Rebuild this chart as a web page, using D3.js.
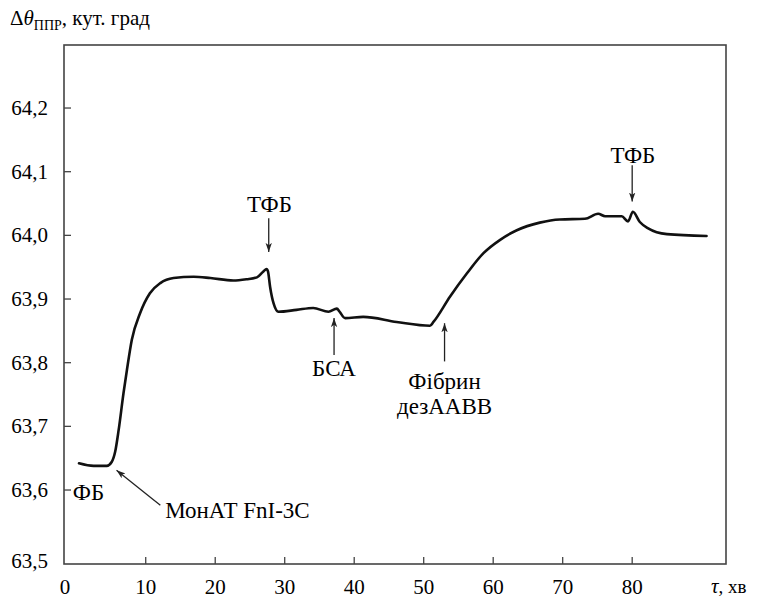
<!DOCTYPE html>
<html>
<head>
<meta charset="utf-8">
<script src="https://cdn.jsdelivr.net/npm/d3@7"></script>
</head>
<body style="margin:0">
<script>
// time, min
var times = [0.4, 2.5, 4.4, 5.1, 5.6, 6.1, 6.8, 7.3, 8.0, 9.2, 10.6, 12.1, 14.0, 16.9, 19.3, 22.6, 24.5,
    26.0, 26.9, 27.4, 27.6, 27.9, 28.4, 29.1, 31.7, 34.1, 36.3, 37.5, 37.9, 38.7, 41.3, 46.1, 50.9,
    51.4, 53.8, 56.2, 58.6, 61.0, 63.4, 66.7, 69.6, 73.2, 75.1, 76.1, 78.5, 79.4, 80.1, 81.1, 82.3, 85.0, 90.7]
// delta theta, deg
var values = [63.642, 63.638, 63.638, 63.644, 63.660, 63.694, 63.752, 63.789, 63.836, 63.878, 63.909, 63.925, 63.933, 63.935, 63.933, 63.929, 63.931,
    63.934, 63.943, 63.947, 63.943, 63.919, 63.893, 63.880, 63.883, 63.886, 63.880, 63.885, 63.880, 63.870, 63.872, 63.864, 63.858,
    63.864, 63.904, 63.940, 63.972, 63.993, 64.008, 64.020, 64.025, 64.026, 64.034, 64.030, 64.030, 64.022, 64.037, 64.021, 64.011, 64.002, 63.999]

var xTicks = [10, 20, 30, 40, 50, 60, 70, 80]
var yTicks = [63.6, 63.7, 63.8, 63.9, 64.0, 64.1, 64.2]
var xCornerLabel = '0'
var yCornerLabel = '63,5'

// arrows: tip and tail in data units
var arrows = [
    {tipT: 5.8, tipV: 63.631, tailT: 12.1, tailV: 63.576},
    {tipT: 27.7, tipV: 63.974, tailT: 27.7, tailV: 64.027},
    {tipT: 37.1, tipV: 63.870, tailT: 37.1, tailV: 63.812},
    {tipT: 53.0, tipV: 63.862, tailT: 53.0, tailV: 63.802},
    {tipT: 80.0, tipV: 64.053, tailT: 80.0, tailV: 64.110}
]
var labels = [
    {text: 'ФБ', t: -0.5, v: 63.597, anchor: 'start'},
    {text: 'МонАТ FnI-3C', t: 12.8, v: 63.569, anchor: 'start'},
    {text: 'ТФБ', t: 27.8, v: 64.049, anchor: 'middle'},
    {text: 'БСА', t: 37.1, v: 63.792, anchor: 'middle'},
    {text: 'Фібрин', t: 53.0, v: 63.772, anchor: 'middle'},
    {text: 'дезААВВ', t: 53.0, v: 63.732, anchor: 'middle'},
    {text: 'ТФБ', t: 80.1, v: 64.126, anchor: 'middle'}
]

var frame = ({left: 64, right: 726, top: 45, bottom: 564})
var serif = 'Liberation Serif'

// fitted to the printed ticks: 10 -> 145.7, 80 -> 632.3 ; 64.2 -> 108, 63.6 -> 490
var x = d3.scaleLinear()
    .domain([-1.76, 93.5])
    .range([frame.left, frame.right])

var y = d3.scaleLinear()
    .domain([63.4838, 64.299])
    .range([frame.bottom, frame.top])

const svg = d3.select('body')
    .append('svg')
    .attr('width', 762)
    .attr('height', 598)
    .attr('font-family', serif)

svg.append('defs').append('marker')
    .attr('id', 'head')
    .attr('viewBox', '0 0 10 10')
    .attr('refX', 10)
    .attr('refY', 5)
    .attr('markerWidth', 9)
    .attr('markerHeight', 9)
    .attr('markerUnits', 'userSpaceOnUse')
    .attr('orient', 'auto')
    .append('path')
    .attr('d', 'M0,1.5 L10,5 L0,8.5 L2.5,5 Z')
    .attr('fill', '#222')

// frame
svg.append('rect')
    .attr('x', frame.left)
    .attr('y', frame.top)
    .attr('width', frame.right - frame.left)
    .attr('height', frame.bottom - frame.top)
    .attr('fill', 'none')
    .attr('stroke', '#444')
    .attr('stroke-width', 1.6)

// inward ticks (lines only)
svg.append('g')
    .selectAll('line')
    .data(xTicks)
    .join('line')
    .attr('x1', d => x(d))
    .attr('x2', d => x(d))
    .attr('y1', frame.bottom)
    .attr('y2', frame.bottom - 7)
    .attr('stroke', '#444')
    .attr('stroke-width', 1.3)

svg.append('g')
    .selectAll('line')
    .data(yTicks)
    .join('line')
    .attr('x1', frame.left)
    .attr('x2', frame.left + 7)
    .attr('y1', d => y(d))
    .attr('y2', d => y(d))
    .attr('stroke', '#444')
    .attr('stroke-width', 1.3)

// tick labels
svg.append('g')
    .selectAll('text')
    .data(xTicks)
    .join('text')
    .attr('x', d => x(d))
    .attr('y', 594)
    .attr('text-anchor', 'middle')
    .style('font-family', serif)
    .style('font-size', '21px')
    .text(d => d)

svg.append('text')
    .attr('x', x.range()[0] + 1)
    .attr('y', 594)
    .attr('text-anchor', 'middle')
    .style('font-family', serif)
    .style('font-size', '21px')
    .text(xCornerLabel)

svg.append('g')
    .selectAll('text')
    .data(yTicks)
    .join('text')
    .attr('x', 48)
    .attr('y', d => y(d) + 7)
    .attr('text-anchor', 'end')
    .style('font-family', serif)
    .style('font-size', '21px')
    .text(d => d3.format('.1f')(d).replace('.', ','))

svg.append('text')
    .attr('x', 48)
    .attr('y', y.range()[0] + 4)
    .attr('text-anchor', 'end')
    .style('font-family', serif)
    .style('font-size', '21px')
    .text(yCornerLabel)

// axis titles
var ytitle = svg.append('text')
    .attr('x', 10)
    .attr('y', 25)
    .style('font-family', serif)
    .style('font-size', '21px')
ytitle.append('tspan').text('Δ')
ytitle.append('tspan').style('font-style', 'italic').text('θ')
ytitle.append('tspan').attr('dy', 5).style('font-size', '14px').text('ППР')
ytitle.append('tspan').attr('dy', -5).text(', кут.  град')

var xtitle = svg.append('text')
    .attr('x', 711)
    .attr('y', 593)
    .style('font-family', serif)
    .style('font-size', '21px')
xtitle.append('tspan').style('font-style', 'italic').text('τ')
xtitle.append('tspan').style('font-size', '19px').text(',  хв')

// curve
var line = d3.line()
    .x((d, i) => x(times[i]))
    .y(d => y(d))
    .curve(d3.curveMonotoneX)

svg.append('path')
    .datum(values)
    .attr('fill', 'none')
    .attr('stroke', '#111')
    .attr('stroke-width', 2.6)
    .attr('stroke-linejoin', 'round')
    .attr('stroke-linecap', 'round')
    .attr('d', line)

// annotations
svg.append('g')
    .selectAll('line')
    .data(arrows)
    .join('line')
    .attr('x1', d => x(d.tailT))
    .attr('y1', d => y(d.tailV))
    .attr('x2', d => x(d.tipT))
    .attr('y2', d => y(d.tipV))
    .attr('stroke', '#222')
    .attr('stroke-width', 1.3)
    .attr('marker-end', 'url(#head)')

svg.append('g')
    .selectAll('text')
    .data(labels)
    .join('text')
    .attr('x', d => x(d.t))
    .attr('y', d => y(d.v) + 8)
    .attr('text-anchor', d => d.anchor)
    .style('font-family', serif)
    .style('font-size', '23px')
    .text(d => d.text)
</script>
</body>
</html>
